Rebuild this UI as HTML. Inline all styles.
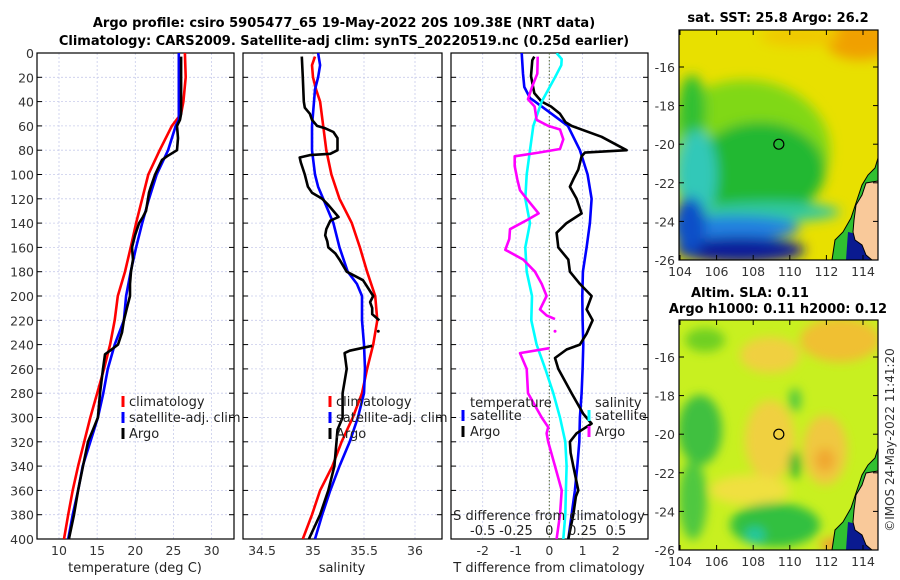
<!DOCTYPE html>
<html><head><meta charset="utf-8">
<style>
html,body{margin:0;padding:0;background:#fff;}
svg{display:block;font-family:"DejaVu Sans","Liberation Sans",sans-serif;}
</style></head>
<body>
<svg id="fig" width="900" height="580" viewBox="0 0 900 580" xmlns="http://www.w3.org/2000/svg">
<defs>
<filter id="blur8" x="-50%" y="-50%" width="200%" height="200%"><feGaussianBlur stdDeviation="6"/></filter>
<filter id="blur5" x="-50%" y="-50%" width="200%" height="200%"><feGaussianBlur stdDeviation="5"/></filter>
<clipPath id="clipTop"><rect x="679" y="30" width="199" height="230"/></clipPath>
<clipPath id="clipBot"><rect x="679" y="320" width="199" height="230"/></clipPath>
<clipPath id="clipP1"><rect x="37" y="53" width="197" height="486"/></clipPath>
<clipPath id="clipP2"><rect x="243" y="53" width="199" height="486"/></clipPath>
<clipPath id="clipP3"><rect x="451" y="53" width="197" height="486"/></clipPath>
</defs>
<g font-weight="bold" font-size="13" text-anchor="middle">
<text x="344" y="27">Argo profile: csiro 5905477_65 19-May-2022 20S 109.38E (NRT data)</text>
<text x="344" y="45">Climatology: CARS2009. Satellite-adj clim: synTS_20220519.nc (0.25d earlier)</text>
</g>
<g id="panels"></g>
<g id="maps"></g>
<text font-size="12" fill="#333" text-anchor="middle" transform="translate(894,440) rotate(-90)">©IMOS 24-May-2022 11:41:20</text>
</svg>
<script>
// ---------- data ----------
const tempClimDepth=[0,20,40,50,60,80,100,120,140,160,180,200,220,240,260,280,300,320,340,360,380,400];
const tempClimVal=[26.5,26.6,26.3,26.0,24.8,23.2,21.7,20.9,20.1,19.4,18.65,17.7,17.3,16.7,15.9,15.0,14.1,13.3,12.5,11.8,11.2,10.65];
const tempSatDepth=[0,20,40,55,60,80,100,120,140,160,180,200,220,240,260,280,300,320,340,360,380,400];
const tempSatVal=[25.7,25.7,25.7,25.7,25.3,24.3,22.8,21.8,20.9,20.1,19.4,18.8,18.5,17.3,16.4,15.8,15.1,14.1,13.1,12.5,11.8,11.2];
const tempArgoDepth=[3,50,55,60,70,80,85,88,100,110,115,120,130,135,140,150,160,170,180,190,200,210,220,230,240,245,248,260,280,300,310,320,340,360,380,400];
const tempArgoVal=[26.0,26.0,25.86,25.47,25.6,25.47,24.15,23.5,22.6,22.05,21.8,21.66,21.4,21.0,20.5,19.96,19.57,19.7,19.44,19.3,19.3,18.9,18.5,18.26,17.73,16.68,16.03,15.77,15.37,15.1,14.46,13.8,13.15,12.5,11.97,11.3];

const salClimDepth=[3,10,20,30,40,60,80,100,120,140,160,180,200,220,240,260,280,300,320,340,360,380,400];
const salClimVal=[35.02,34.99,35.0,35.03,35.07,35.1,35.13,35.18,35.26,35.38,35.46,35.53,35.61,35.63,35.59,35.53,35.48,35.39,35.28,35.19,35.07,34.99,34.9];
const salSatDepth=[0,10,20,30,40,60,80,100,110,120,140,160,180,190,200,220,240,260,280,300,320,340,360,380,400];
const salSatVal=[35.05,35.07,35.05,35.02,35.01,34.99,34.99,35.02,35.05,35.1,35.2,35.26,35.34,35.43,35.48,35.48,35.5,35.51,35.5,35.44,35.36,35.26,35.17,35.09,35.02];
const salArgoDepth=[3,20,40,45,50,55,60,62,65,70,80,83,84,86,90,100,110,115,120,125,130,135,138,145,150,155,160,165,170,180,187,200,205,210,215,220,225,241,245,247,260,280,300,310,320,340,360,380,400];
const salArgoVal=[34.89,34.9,34.91,34.92,34.97,34.99,35.04,35.12,35.2,35.24,35.24,35.17,34.97,34.87,34.88,34.92,34.95,34.99,35.09,35.15,35.2,35.25,35.17,35.13,35.12,35.14,35.15,35.22,35.26,35.33,35.49,35.59,35.56,35.58,35.58,35.65,null,35.58,35.36,35.31,35.33,35.29,35.29,35.24,35.23,35.21,35.15,35.07,34.96];

const dTSatDepth=[0,17,28,37,40,50,60,80,100,120,140,160,180,200,220,240,260,280,300,320,340,360,380,400];
const dTSatVal=[-0.83,-0.79,-0.75,-0.58,-0.43,0.07,0.56,0.92,1.15,1.27,1.22,1.12,1.01,0.99,1.0,1.02,1.0,0.97,0.92,0.9,0.84,0.77,0.67,0.57];
const dTArgoDepth=[3,6,19,33,40,44,50,57,60,69,80,82,85,96,104,110,120,132,140,148,160,170,180,190,200,211,220,231,240,244,251,260,280,297,305,313,320,329,340,360,365,380,400];
const dTArgoVal=[-0.45,-0.51,-0.55,-0.45,-0.23,0.05,0.32,0.49,0.67,1.57,2.32,1.07,0.97,0.87,0.72,0.62,0.82,0.97,0.52,0.22,0.27,0.57,0.62,0.92,1.27,1.12,1.3,1.12,0.92,0.52,0.17,0.27,0.67,1.02,1.27,0.82,0.62,0.64,0.72,0.87,0.8,0.72,0.57];
const dSSatDepth=[0,5,10,20,40,60,80,100,120,140,160,180,200,220,240,260,280,300,320,340,360,380,400];
const dSSatVal=[0.055,0.093,0.09,0.043,-0.057,-0.12,-0.145,-0.17,-0.18,-0.145,-0.18,-0.17,-0.13,-0.135,-0.095,-0.03,0.03,0.08,0.12,0.13,0.125,0.12,0.105];
const dSArgoDepth=[3,17,28,38,44,55,60,63,71,79,82,85,93,104,113,120,132,137,145,153,162,170,180,190,200,211,216,219,224,243,247,260,280,300,308,313,320,340,360,380,400];
const dSArgoVal=[-0.087,-0.09,-0.13,-0.16,-0.11,-0.095,-0.008,0.08,0.105,0.08,-0.08,-0.26,-0.26,-0.24,-0.22,-0.17,-0.08,-0.16,-0.295,-0.3,-0.33,-0.195,-0.107,-0.057,-0.02,-0.07,-0.02,0.043,null,0.0,-0.22,-0.17,-0.16,-0.057,-0.008,-0.02,-0.008,0.043,0.093,0.08,0.055];

const depthTicks=[0,20,40,60,80,100,120,140,160,180,200,220,240,260,280,300,320,340,360,380,400];
const tempTicks=[10,15,20,25,30];
const salTicks=[34.5,35,35.5,36];
const salTickLabels=["34.5","35","35.5","36"];
const dTTicks=[-2,-1,0,1,2];
const dSTicks=[-0.5,-0.25,0,0.25,0.5];
const dSTickLabels=["-0.5","-0.25","0","0.25","0.5"];
const lonTicks=[104,106,108,110,112,114];
const latTicks=[-16,-18,-20,-22,-24,-26];

// ---------- axes ----------
const yD=d=>53+d*1.215;
const xT=t=>59+(t-10)*7.63;
const xS=s=>313+(s-35)*102;
const xDT=v=>549.3+v*33.3;
const xDS=v=>549.3+v*133.2;
const xLon=l=>680+(l-104)*18.3;
const yLatTop=l=>67+(-16-l)*19.3;
const yLatBot=l=>357+(-16-l)*19.3;

const NS="http://www.w3.org/2000/svg";
function mk(tag,attrs,parent){const e=document.createElementNS(NS,tag);for(const k in attrs)e.setAttribute(k,attrs[k]);parent.appendChild(e);return e;}
const panels=document.getElementById('panels');

function linePath(depths,vals,xf){
  let d="",pen=false;
  for(let i=0;i<depths.length;i++){
    if(vals[i]===null){pen=false;continue;}
    d+=(pen?"L":"M")+xf(vals[i]).toFixed(1)+","+yD(depths[i]).toFixed(1);pen=true;
  }
  return d;
}

function panel(name,x0,x1,xticks,xf,labels,showDepthLabels,clip){
  const g=mk('g',{},panels);
  
  
  xticks.forEach(t=>{const l=mk('line',{x1:xf(t),x2:xf(t),y1:53,y2:539,stroke:'#c8cceb','stroke-width':0.8,'stroke-dasharray':'2,2'},g);
    });
  depthTicks.forEach(d=>{const l=mk('line',{x1:x0,x2:x1,y1:yD(d),y2:yD(d),stroke:'#c8cceb','stroke-width':0.8,'stroke-dasharray':'2,2'},g);
    });
  depthTicks.forEach(d=>{
    const a=mk('line',{x1:x0,x2:x0+5,y1:yD(d),y2:yD(d),stroke:'#000'},g);
    const b=mk('line',{x1:x1-5,x2:x1,y1:yD(d),y2:yD(d),stroke:'#000'},g);
    if(showDepthLabels){const t=mk('text',{x:x0-3,y:yD(d)+5,'font-size':12.5,'text-anchor':'end',fill:'#333'},g);t.textContent=d;
      }
  });
  if(labels){xticks.forEach((t,i)=>{const tx=mk('text',{x:xf(t),y:555,'font-size':12.5,'text-anchor':'middle',fill:'#333'},g);tx.textContent=labels[i];
    });}
  const f=mk('rect',{x:x0,y:53,width:x1-x0,height:486,fill:'none',stroke:'#000','stroke-width':1.2},g);
  
  const cg=mk('g',{'clip-path':'url(#'+clip+')'},g);
  return {g,cg};
}
function series(cg,name,depths,vals,xf,color){
  const p=mk('path',{d:linePath(depths,vals,xf),fill:'none',stroke:color,'stroke-width':2.6,'stroke-linejoin':'round'},cg);
  
  
}
function label(g,txt,x,y,name,anchor,fs){const t=mk('text',{x:x,y:y,'font-size':fs||13,'text-anchor':anchor||'start',fill:'#222'},g);t.textContent=txt;
  return t;}
function marker(g,x,y,color,name){const r=mk('rect',{x:x-1.5,y:y-6,width:3,height:11,fill:color},g);
  }

// panel 1
let P=panel('temperature-panel',37,234,tempTicks,xT,tempTicks.map(String),true,'clipP1');
series(P.cg,'temp-climatology-line',tempClimDepth,tempClimVal,xT,'#ff0000');
series(P.cg,'temp-satellite-line',tempSatDepth,tempSatVal,xT,'#0000ff');
series(P.cg,'temp-argo-line',tempArgoDepth,tempArgoVal,xT,'#000000');
label(P.g,'temperature (deg C)',135,572,'temperature-axis-title','middle');
[['climatology','#ff0000'],['satellite-adj. clim','#0000ff'],['Argo','#000']].forEach((e,i)=>{
  marker(P.g,123,402+i*16,e[1],'legend-marker');label(P.g,e[0],129,406+i*16,'legend-entry');});

// panel 2
P=panel('salinity-panel',243,442,salTicks,xS,salTickLabels,false,'clipP2');
series(P.cg,'sal-climatology-line',salClimDepth,salClimVal,xS,'#ff0000');
series(P.cg,'sal-satellite-line',salSatDepth,salSatVal,xS,'#0000ff');
series(P.cg,'sal-argo-line',salArgoDepth,salArgoVal,xS,'#000000');
mk('circle',{cx:xS(35.64),cy:yD(229),r:1.5,fill:'#000'},P.cg);
label(P.g,'salinity',342,572,'salinity-axis-title','middle');
[['climatology','#ff0000'],['satellite-adj. clim','#0000ff'],['Argo','#000']].forEach((e,i)=>{
  marker(P.g,330,402+i*16,e[1],'legend-marker');label(P.g,e[0],336,406+i*16,'legend-entry');});

// panel 3
P=panel('difference-panel',451,648,dTTicks,xDT,dTTicks.map(String),false,'clipP3');
const zl=mk('line',{x1:xDT(0),x2:xDT(0),y1:53,y2:539,stroke:'#556633','stroke-width':1,'stroke-dasharray':'1.5,2'},P.cg);

series(P.cg,'dT-satellite-line',dTSatDepth,dTSatVal,xDT,'#0000ff');
series(P.cg,'dT-argo-line',dTArgoDepth,dTArgoVal,xDT,'#000000');
series(P.cg,'dS-satellite-line',dSSatDepth,dSSatVal,xDS,'#00ffff');
series(P.cg,'dS-argo-line',dSArgoDepth,dSArgoVal,xDS,'#ff00ff');
mk('circle',{cx:xDS(0.043),cy:yD(229),r:1.5,fill:'#ff00ff'},P.cg);
label(P.g,'T difference from climatology',549,572,'dT-axis-title','middle');
label(P.g,'S difference from climatology',549,520,'dS-axis-title','middle');
dSTicks.forEach((t,i)=>label(P.g,dSTickLabels[i],xDS(t),535,'dS-tick-label','middle'));
label(P.g,'temperature',470,407,'legend-title-temperature');
marker(P.g,463,416,'#0000ff','legend-marker');label(P.g,'satellite',470,420,'legend-entry');
marker(P.g,463,432,'#000','legend-marker');label(P.g,'Argo',470,436,'legend-entry');
label(P.g,'salinity',595,407,'legend-title-salinity');
marker(P.g,589,416,'#00ffff','legend-marker');label(P.g,'satellite',595,420,'legend-entry');
marker(P.g,589,432,'#ff00ff','legend-marker');label(P.g,'Argo',595,436,'legend-entry');

// ---------- maps ----------
const maps=document.getElementById('maps');
function mapAxes(g,y0,yLat){
  mk('rect',{x:679,y:y0,width:199,height:230,fill:'none',stroke:'#000','stroke-width':1.2},g);
  lonTicks.forEach(l=>{
    mk('line',{x1:xLon(l),x2:xLon(l),y1:y0+230,y2:y0+225,stroke:'#000'},g);
    mk('line',{x1:xLon(l),x2:xLon(l),y1:y0,y2:y0+5,stroke:'#000'},g);
    const t=mk('text',{x:xLon(l),y:y0+246,'font-size':12.5,'text-anchor':'middle',fill:'#333'},g);t.textContent=l;
    });
  latTicks.forEach(l=>{
    mk('line',{x1:679,x2:684,y1:yLat(l),y2:yLat(l),stroke:'#000'},g);
    mk('line',{x1:873,x2:878,y1:yLat(l),y2:yLat(l),stroke:'#000'},g);
    const t=mk('text',{x:675,y:yLat(l)+5,'font-size':12.5,'text-anchor':'end',fill:'#333'},g);t.textContent=l;
    });
}
function coast(g,dy){
  const gg=mk('g',{transform:'translate(0,'+dy+')'},g);
  mk('path',{d:'M878,158 L875,168 L868,175 L862,185 L857,200 L851,218 L843,232 L835,240 L832,260 L878,260 Z',fill:'#30c030'},gg);
  mk('path',{d:'M848,232 L866,236 L872,260 L846,260 Z',fill:'#0a1a90'},gg);
  mk('path',{d:'M878,181 L866,183 L862,195 L856,205 L854,220 L853,232 L855,240 L862,245 L866,255 L872,260 L878,260 Z',fill:'#f9c99a',stroke:'#000','stroke-width':1},gg);
  mk('path',{d:'M878,158 L875,168 L868,175 L862,185 L857,200 L851,218 L843,232 L835,240 L832,260',fill:'none',stroke:'#000','stroke-width':1},gg);
  return gg;
}
// top SST map
let mg=mk('g',{},maps);


let cg=mk('g',{'clip-path':'url(#clipTop)'},mg);
mk('rect',{x:679,y:30,width:199,height:230,fill:'#e8e000'},cg);
let bl=mk('g',{filter:'url(#blur8)'},cg);
mk('ellipse',{cx:860,cy:40,rx:35,ry:20,fill:'#f0a000'},bl);
mk('ellipse',{cx:800,cy:36,rx:40,ry:10,fill:'#f0c800'},bl);
mk('ellipse',{cx:745,cy:150,rx:85,ry:70,fill:'#80d818'},bl);
mk('ellipse',{cx:760,cy:170,rx:65,ry:48,fill:'#20b830'},bl);
mk('ellipse',{cx:692,cy:110,rx:14,ry:35,fill:'#30c030'},bl);
mk('ellipse',{cx:697,cy:175,rx:20,ry:45,fill:'#30c8b8'},bl);
mk('ellipse',{cx:770,cy:212,rx:70,ry:10,fill:'#30c8a0'},bl);
mk('ellipse',{cx:735,cy:228,rx:65,ry:12,fill:'#2080e0'},bl);
mk('ellipse',{cx:740,cy:250,rx:65,ry:13,fill:'#0a1a9a'},bl);
mk('ellipse',{cx:690,cy:225,rx:16,ry:28,fill:'#1050c8'},bl);
coast(cg,0);
mk('circle',{cx:xLon(109.4),cy:yLatTop(-20),r:5,fill:'none',stroke:'#000','stroke-width':1.2},mg);
mapAxes(mg,30,yLatTop);
const t1=mk('text',{x:778,y:22,'font-size':13,'font-weight':'bold','text-anchor':'middle'},mg);t1.textContent='sat. SST: 25.8 Argo: 26.2';


// bottom SLA map
mg=mk('g',{},maps);


cg=mk('g',{'clip-path':'url(#clipBot)'},mg);
mk('rect',{x:679,y:320,width:199,height:230,fill:'#c8f020'},cg);
bl=mk('g',{filter:'url(#blur5)'},cg);
mk('ellipse',{cx:840,cy:340,rx:40,ry:22,fill:'#f0c030'},bl);
mk('ellipse',{cx:770,cy:355,rx:30,ry:18,fill:'#f0d040'},bl);
mk('ellipse',{cx:770,cy:440,rx:25,ry:40,fill:'#f0d040'},bl);
mk('ellipse',{cx:825,cy:450,rx:22,ry:35,fill:'#f0c840'},bl);
mk('ellipse',{cx:825,cy:460,rx:10,ry:12,fill:'#f0a830'},bl);
mk('ellipse',{cx:750,cy:490,rx:40,ry:15,fill:'#f0e040'},bl);
mk('ellipse',{cx:700,cy:430,rx:22,ry:35,fill:'#40c040'},bl);
mk('ellipse',{cx:693,cy:500,rx:14,ry:40,fill:'#50c840'},bl);
mk('ellipse',{cx:775,cy:525,rx:45,ry:22,fill:'#30c040'},bl);
mk('ellipse',{cx:755,cy:535,rx:10,ry:8,fill:'#20c8a0'},bl);
mk('ellipse',{cx:795,cy:465,rx:6,ry:14,fill:'#30b830'},bl);
mk('ellipse',{cx:795,cy:400,rx:6,ry:12,fill:'#50c840'},bl);
mk('ellipse',{cx:705,cy:340,rx:20,ry:12,fill:'#70d020'},bl);
mk('ellipse',{cx:840,cy:545,rx:20,ry:8,fill:'#f0a030'},bl);
coast(cg,290);
mk('circle',{cx:xLon(109.4),cy:yLatBot(-20),r:5,fill:'none',stroke:'#000','stroke-width':1.2},mg);
mapAxes(mg,320,yLatBot);
const t2=mk('text',{x:750,y:297,'font-size':13,'font-weight':'bold','text-anchor':'middle'},mg);t2.textContent='Altim. SLA: 0.11';

const t3=mk('text',{x:778,y:313,'font-size':13,'font-weight':'bold','text-anchor':'middle'},mg);t3.textContent='Argo h1000: 0.11 h2000: 0.12';

</script>
</body></html>
